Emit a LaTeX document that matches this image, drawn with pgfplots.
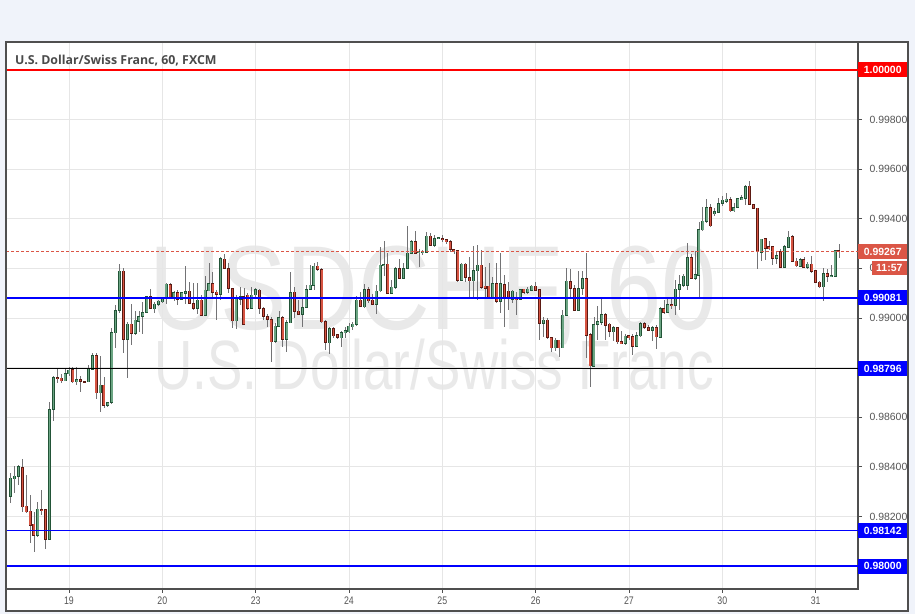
\documentclass[border=0pt]{standalone}
\usepackage{pgfplots}
\pgfplotsset{compat=1.18}
\usepackage{pgfplotstable}
\usepackage{fontspec}
\setmainfont{Liberation Sans}
\newfontfamily\titlefont{Open Sans}
\newfontfamily\narrowfont[FakeStretch=0.8]{Liberation Sans}
\pgfdeclarelayer{background}

\definecolor{bgpage}{HTML}{F0F3FA}
\definecolor{framegray}{HTML}{4F4F4F}
\definecolor{gridgray}{HTML}{E6E6E6}
\definecolor{wm}{HTML}{E9E9E9}
\definecolor{labelgray}{HTML}{555555}
\definecolor{titlegray}{HTML}{4A4A4A}
\definecolor{upfill}{HTML}{6BA583}
\definecolor{upline}{HTML}{225437}
\definecolor{dnfill}{HTML}{D75442}
\definecolor{dnline}{HTML}{5B1A13}
\definecolor{wick}{HTML}{737375}
\definecolor{lvlred}{HTML}{FF0000}
\definecolor{lvlblue}{HTML}{0000FF}
\definecolor{pricered}{HTML}{DB5646}

% hourly candles, t = hours from 19 March 00:00 (trading hours only)
\pgfplotstableread{
t o h l c
-15 0.98280 0.98376 0.98253 0.98354
-14 0.98352 0.98403 0.98295 0.98363
-13 0.98360 0.98407 0.98327 0.98399
-12 0.98399 0.98432 0.98219 0.98239
-11 0.98242 0.98367 0.98214 0.98219
-10 0.98222 0.98286 0.98093 0.98166
-9 0.98170 0.98219 0.98058 0.98125
-8 0.98125 0.98259 0.98118 0.98229
-7 0.98229 0.98307 0.98206 0.98226
-6 0.98229 0.98230 0.98068 0.98108
-5 0.98108 0.98663 0.98105 0.98632
-4 0.98632 0.98766 0.98586 0.98761
-3 0.98761 0.98797 0.98739 0.98755
-2 0.98758 0.98777 0.98737 0.98747
-1 0.98747 0.98796 0.98745 0.98777
0 0.98776 0.98804 0.98766 0.98791
1 0.98793 0.98804 0.98737 0.98743
2 0.98743 0.98803 0.98730 0.98753
3 0.98753 0.98764 0.98703 0.98745
4 0.98745 0.98747 0.98740 0.98743
5 0.98743 0.98811 0.98741 0.98797
6 0.98793 0.98858 0.98791 0.98848
7 0.98848 0.98858 0.98676 0.98699
8 0.98699 0.98847 0.98622 0.98730
9 0.98730 0.98764 0.98636 0.98647
10 0.98647 0.98663 0.98643 0.98660
11 0.98660 0.98963 0.98656 0.98942
12 0.98942 0.99053 0.98880 0.99031
13 0.99031 0.99218 0.99019 0.99190
14 0.99190 0.99201 0.98860 0.98914
15 0.98914 0.98984 0.98757 0.98976
16 0.98976 0.99057 0.98891 0.98938
17 0.98938 0.99032 0.98932 0.98992
18 0.98989 0.99030 0.98945 0.99008
19 0.99007 0.99066 0.98938 0.99024
20 0.99023 0.99090 0.99019 0.99086
21 0.99086 0.99116 0.99035 0.99038
22 0.99038 0.99066 0.99019 0.99057
23 0.99057 0.99073 0.99048 0.99069
24 0.99066 0.99086 0.99061 0.99084
25 0.99084 0.99142 0.99057 0.99137
26 0.99137 0.99141 0.99084 0.99086
27 0.99086 0.99110 0.99070 0.99104
28 0.99104 0.99113 0.99053 0.99076
29 0.99076 0.99106 0.99073 0.99104
30 0.99102 0.99210 0.99059 0.99109
31 0.99109 0.99146 0.99057 0.99059
32 0.99059 0.99140 0.99032 0.99038
33 0.99038 0.99142 0.99016 0.99073
34 0.99073 0.99093 0.99008 0.99012
35 0.99012 0.99170 0.99010 0.99113
36 0.99110 0.99221 0.99108 0.99140
37 0.99140 0.99187 0.99086 0.99104
38 0.99104 0.99113 0.98992 0.99096
39 0.99096 0.99247 0.99073 0.99238
40 0.99238 0.99261 0.99197 0.99201
41 0.99201 0.99221 0.99100 0.99120
42 0.99120 0.99121 0.98959 0.98989
43 0.98989 0.99093 0.98955 0.99080
44 0.99076 0.99126 0.99053 0.99089
45 0.99089 0.99120 0.98972 0.98976
46 0.99093 0.99100 0.99032 0.99039
47 0.99039 0.99126 0.99035 0.99093
48 0.99093 0.99120 0.99086 0.99113
49 0.99113 0.99116 0.99016 0.99039
50 0.99039 0.99046 0.98992 0.99008
51 0.99008 0.99016 0.98965 0.98995
52 0.98995 0.99005 0.98824 0.98905
53 0.98905 0.98979 0.98898 0.98968
54 0.98968 0.99030 0.98965 0.99003
55 0.99003 0.99008 0.98884 0.98914
56 0.98914 0.98992 0.98864 0.98981
57 0.98981 0.99187 0.98979 0.99104
58 0.99104 0.99126 0.99003 0.99026
59 0.99028 0.99073 0.99011 0.99016
60 0.99016 0.99080 0.98965 0.99043
61 0.99043 0.99133 0.99039 0.99116
62 0.99116 0.99214 0.99113 0.99133
63 0.99133 0.99221 0.99113 0.99210
64 0.99210 0.99227 0.99191 0.99197
65 0.99197 0.99201 0.98979 0.98985
66 0.98985 0.98992 0.98871 0.98901
67 0.98901 0.98965 0.98858 0.98959
68 0.98959 0.98963 0.98918 0.98928
69 0.98932 0.98938 0.98918 0.98921
70 0.98921 0.98949 0.98884 0.98941
71 0.98941 0.98963 0.98918 0.98949
72 0.98945 0.98979 0.98941 0.98968
73 0.98965 0.98985 0.98952 0.98976
74 0.98975 0.99089 0.98968 0.99073
75 0.99073 0.99106 0.99043 0.99046
76 0.99046 0.99140 0.99043 0.99116
77 0.99116 0.99124 0.99062 0.99070
78 0.99073 0.99097 0.99053 0.99055
79 0.99055 0.99133 0.99019 0.99110
80 0.99110 0.99288 0.99106 0.99214
81 0.99213 0.99312 0.99170 0.99218
82 0.99218 0.99263 0.99097 0.99100
83 0.99100 0.99153 0.99097 0.99124
84 0.99124 0.99207 0.99120 0.99201
85 0.99201 0.99237 0.99156 0.99160
86 0.99160 0.99221 0.99156 0.99201
87 0.99201 0.99371 0.99197 0.99263
88 0.99263 0.99315 0.99261 0.99308
89 0.99308 0.99352 0.99258 0.99261
90 0.99262 0.99281 0.99207 0.99267
91 0.99264 0.99274 0.99254 0.99270
92 0.99267 0.99348 0.99264 0.99331
93 0.99331 0.99344 0.99290 0.99294
94 0.99292 0.99335 0.99288 0.99321
95 0.99321 0.99328 0.99318 0.99324
96 0.99321 0.99335 0.99308 0.99317
97 0.99317 0.99321 0.99301 0.99308
98 0.99308 0.99315 0.99267 0.99277
99 0.99277 0.99281 0.99261 0.99272
100 0.99272 0.99274 0.99146 0.99151
101 0.99151 0.99223 0.99151 0.99218
102 0.99218 0.99223 0.99146 0.99164
103 0.99164 0.99247 0.99084 0.99151
104 0.99151 0.99290 0.99080 0.99194
105 0.99191 0.99294 0.99073 0.99214
106 0.99214 0.99277 0.99120 0.99124
107 0.99129 0.99207 0.99080 0.99120
108 0.99129 0.99221 0.99080 0.99084
109 0.99084 0.99167 0.99076 0.99140
110 0.99140 0.99221 0.99062 0.99066
111 0.99066 0.99261 0.99019 0.99140
112 0.99137 0.99174 0.98963 0.99080
113 0.99109 0.99146 0.99032 0.99080
114 0.99077 0.99113 0.99059 0.99109
115 0.99080 0.99106 0.99012 0.99076
116 0.99076 0.99120 0.99073 0.99116
117 0.99116 0.99120 0.99097 0.99102
118 0.99102 0.99124 0.99097 0.99116
119 0.99113 0.99133 0.99110 0.99129
120 0.99129 0.99146 0.99113 0.99113
121 0.99116 0.99120 0.98911 0.98979
122 0.98979 0.99003 0.98925 0.98992
123 0.98992 0.98999 0.98914 0.98921
124 0.98921 0.98925 0.98864 0.98880
125 0.98880 0.98918 0.98867 0.98911
126 0.98911 0.98914 0.98842 0.98880
127 0.98880 0.99032 0.98878 0.99012
128 0.99012 0.99201 0.99008 0.99149
129 0.99149 0.99201 0.99086 0.99120
130 0.99120 0.99133 0.99030 0.99032
131 0.99032 0.99191 0.99030 0.99120
132 0.99120 0.99191 0.99093 0.99160
133 0.99160 0.99263 0.98838 0.98932
134 0.98934 0.98938 0.98723 0.98807
135 0.98807 0.99003 0.98804 0.98975
136 0.98975 0.99048 0.98911 0.98988
137 0.98985 0.99086 0.98972 0.99016
138 0.99016 0.99022 0.98911 0.98972
139 0.98975 0.98979 0.98925 0.98945
140 0.98945 0.98968 0.98909 0.98963
141 0.98963 0.98965 0.98898 0.98905
142 0.98907 0.98949 0.98895 0.98898
143 0.98898 0.98936 0.98891 0.98928
144 0.98928 0.98932 0.98911 0.98921
145 0.98925 0.98936 0.98851 0.98887
146 0.98887 0.98945 0.98884 0.98928
147 0.98928 0.98985 0.98923 0.98979
148 0.98979 0.98985 0.98955 0.98963
149 0.98963 0.98972 0.98949 0.98952
150 0.98952 0.98968 0.98909 0.98963
151 0.98963 0.98972 0.98878 0.98925
152 0.98925 0.99046 0.98923 0.99039
153 0.99039 0.99076 0.99019 0.99022
154 0.99022 0.99080 0.99019 0.99053
155 0.99053 0.99084 0.99039 0.99050
156 0.99050 0.99153 0.99012 0.99116
157 0.99116 0.99174 0.99032 0.99136
158 0.99133 0.99178 0.99126 0.99170
159 0.99133 0.99301 0.99113 0.99245
160 0.99245 0.99261 0.99157 0.99160
161 0.99160 0.99270 0.99153 0.99174
162 0.99171 0.99387 0.99080 0.99355
163 0.99355 0.99449 0.99351 0.99391
164 0.99389 0.99480 0.99386 0.99446
165 0.99446 0.99459 0.99368 0.99372
166 0.99422 0.99443 0.99413 0.99429
167 0.99426 0.99483 0.99422 0.99463
168 0.99463 0.99493 0.99453 0.99476
169 0.99472 0.99503 0.99463 0.99480
170 0.99480 0.99489 0.99429 0.99433
171 0.99433 0.99463 0.99429 0.99446
172 0.99446 0.99483 0.99445 0.99480
173 0.99479 0.99496 0.99476 0.99485
174 0.99485 0.99536 0.99459 0.99532
175 0.99532 0.99553 0.99456 0.99459
176 0.99459 0.99463 0.99440 0.99443
177 0.99443 0.99445 0.99198 0.99267
178 0.99267 0.99319 0.99230 0.99319
179 0.99319 0.99324 0.99234 0.99281
180 0.99288 0.99311 0.99274 0.99281
181 0.99288 0.99292 0.99214 0.99241
182 0.99241 0.99267 0.99217 0.99254
183 0.99270 0.99278 0.99201 0.99207
184 0.99207 0.99294 0.99203 0.99288
185 0.99286 0.99351 0.99284 0.99327
186 0.99327 0.99335 0.99225 0.99227
187 0.99230 0.99243 0.99207 0.99211
188 0.99211 0.99243 0.99205 0.99238
189 0.99238 0.99247 0.99201 0.99205
190 0.99203 0.99225 0.99198 0.99217
191 0.99217 0.99250 0.99184 0.99187
192 0.99190 0.99194 0.99140 0.99144
193 0.99145 0.99149 0.99123 0.99126
194 0.99126 0.99201 0.99069 0.99180
195 0.99180 0.99198 0.99146 0.99167
196 0.99168 0.99214 0.99166 0.99171
197 0.99169 0.99274 0.99166 0.99272
198 0.99272 0.99299 0.99243 0.99267
}\candles

\pgfplotsset{
  candle/.style={draw=none, mark=none,
    error bars/y dir=both, error bars/y explicit, error bars/error mark=none,
    error bars/error bar style={#1}},
}

\begin{document}
\begin{tikzpicture}[x=1bp, y=1bp]
\pgfsetlayers{background,main}
\begin{axis}[
  name=ax,
  scale only axis, width=852bp, height=547bp,
  xmin=-16.2, xmax=202.9, ymin=0.979073, ymax=1.001129,
  axis line style={draw=framegray, line width=1.2bp},
  xtick={0,24,48,72,96,120,144,168,192},
  xticklabels={19,20,23,24,25,26,27,30,31},
  ytick={0.980,0.982,0.984,0.986,0.988,0.990,0.992,0.994,0.996,0.998,1.000},
  scaled y ticks=false,
  xtick pos=left, ytick pos=right, yticklabel pos=right,
  tick align=outside, major tick length=4bp,
  tick style={draw=framegray, line width=0.8bp},
  grid=major, major grid style={draw=gridgray, line width=0.8bp},
  yticklabel style={font=\fontsize{10.5}{12}\selectfont, text=labelgray, xshift=4bp,
    /pgf/number format/.cd, fixed, fixed zerofill, precision=5, assume math mode=true},
  xticklabel style={font=\narrowfont\fontsize{11}{12}\selectfont, text=labelgray},
]
% wicks
\addplot[candle={draw=wick, line width=0.9bp}]
  table[x=t, y expr={(\thisrow{h}+\thisrow{l})/2}, y error expr={(\thisrow{h}-\thisrow{l})/2}] {\candles};
% rising bodies
\addplot[candle={draw=upline, line width=3bp}, restrict expr to domain={\thisrow{c}-\thisrow{o}}{0:1}]
  table[x=t, y expr={(\thisrow{o}+\thisrow{c})/2}, y error expr={abs(\thisrow{c}-\thisrow{o})/2+0.00002}] {\candles};
\addplot[candle={draw=upfill, line width=1.6bp}, restrict expr to domain={\thisrow{c}-\thisrow{o}}{0:1}]
  table[x=t, y expr={(\thisrow{o}+\thisrow{c})/2}, y error expr={max(abs(\thisrow{c}-\thisrow{o})/2-0.00001,0)}] {\candles};
% falling bodies
\addplot[candle={draw=dnline, line width=3bp}, restrict expr to domain={\thisrow{c}-\thisrow{o}}{-1:0}]
  table[x=t, y expr={(\thisrow{o}+\thisrow{c})/2}, y error expr={abs(\thisrow{c}-\thisrow{o})/2+0.00002}] {\candles};
\addplot[candle={draw=dnfill, line width=1.6bp}, restrict expr to domain={\thisrow{c}-\thisrow{o}}{-1:0}]
  table[x=t, y expr={(\thisrow{o}+\thisrow{c})/2}, y error expr={max(abs(\thisrow{c}-\thisrow{o})/2-0.00001,0)}] {\candles};

% ends of the horizontal levels
\coordinate (R1) at (axis cs:-16.2,1.00000);
\coordinate (R2) at (axis cs:-16.2,0.99267);
\coordinate (R3) at (axis cs:-16.2,0.99081);
\coordinate (R4) at (axis cs:-16.2,0.98796);
\coordinate (R5) at (axis cs:-16.2,0.98142);
\coordinate (R6) at (axis cs:-16.2,0.98000);
\coordinate (L1) at (axis cs:202.9,1.00000);
\coordinate (L2) at (axis cs:202.9,0.99267);
\coordinate (L3) at (axis cs:202.9,0.99081);
\coordinate (L4) at (axis cs:202.9,0.98796);
\coordinate (L5) at (axis cs:202.9,0.98142);
\coordinate (L6) at (axis cs:202.9,0.98000);
\end{axis}

% horizontal levels
\draw[draw=lvlred, line width=1.3bp] (R1) -- (L1);
\draw[draw=pricered, line width=1.3bp, dash pattern=on 3bp off 2bp] (R2) -- (L2);
\draw[draw=lvlblue, line width=1.3bp] (R3) -- (L3);
\draw[draw=black, line width=1.2bp] (R4) -- (L4);
\draw[draw=lvlblue, line width=1.3bp] (R5) -- (L5);
\draw[draw=lvlblue, line width=1.3bp] (R6) -- (L6);

% everything else is placed relative to the lower left corner of the plot
\begin{scope}[shift={(ax.south west)}, shift={(-6bp,-25bp)}]
\begin{pgfonlayer}{background}
\fill[bgpage] (0,0) rectangle (915,614);
\fill[white] (6,3) rectangle (908,572);
\node[anchor=base, text=wm, inner sep=0] at (433,284)
  {\scalebox{0.83}[1]{\fontsize{120}{120}\selectfont USDCHF, 60}};
\node[anchor=base, text=wm, inner sep=0] at (434,224)
  {\scalebox{0.76}[1]{\fontsize{70}{70}\selectfont U.S. Dollar/Swiss Franc}};
\end{pgfonlayer}
\useasboundingbox (0,0) rectangle (915,614);

\draw[framegray, line width=1.2bp] (6,3) rectangle (908,572);

\tikzset{plbl/.style={anchor=west, inner sep=0pt, minimum width=49bp, minimum height=15bp,
  text=white, font=\bfseries\fontsize{10.5}{12}\selectfont}}
\node[plbl, fill=lvlred] at (L1) {1.00000};
\node[plbl, fill=pricered] at (L2) {0.99267};
\node[plbl, fill=lvlblue] at (L3) {0.99081};
\node[plbl, fill=lvlblue] at (L4) {0.98796};
\node[plbl, fill=lvlblue] at (L5) {0.98142};
\node[plbl, fill=lvlblue] at (L6) {0.98000};
\node[anchor=north east, inner sep=0pt, minimum width=35bp, minimum height=14bp,
  fill=pricered, text=white, font=\bfseries\fontsize{10.5}{12}\selectfont]
  at (907,353) {11:57};

\node[anchor=base west, inner sep=0, text=titlegray]
  at (15,549) {\titlefont\bfseries\fontsize{12.4}{14}\selectfont U.S. Dollar/Swiss Franc, 60, FXCM};
\end{scope}
\end{tikzpicture}
\end{document}
